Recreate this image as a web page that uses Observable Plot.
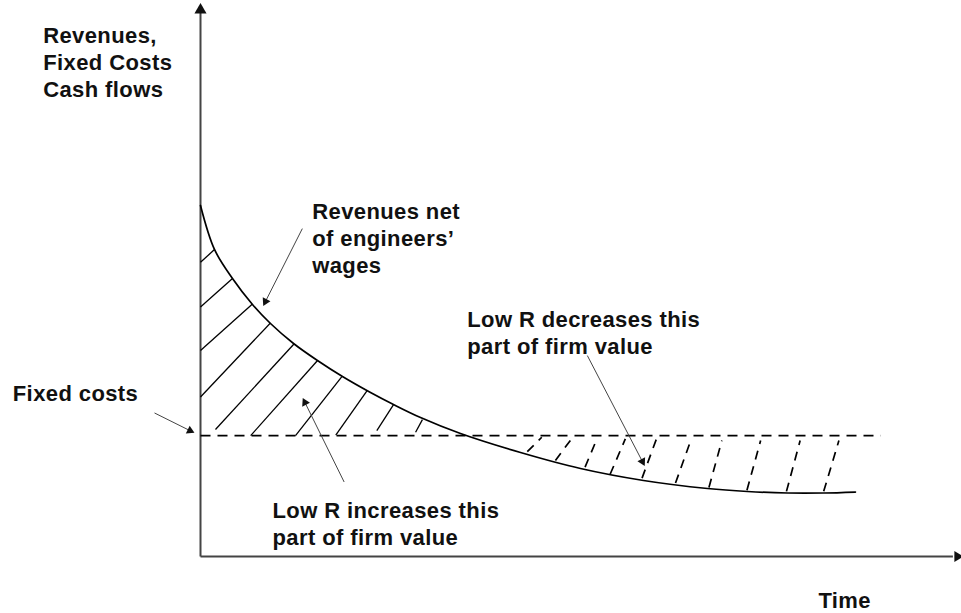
<!DOCTYPE html>
<html>
<head>
<meta charset="utf-8">
<script src="https://cdn.jsdelivr.net/npm/d3@7"></script>
<script src="https://cdn.jsdelivr.net/npm/@observablehq/plot@0.6"></script>
<style>
  html, body { margin: 0; padding: 0; background: #fff; }
  #chart svg { display: block; overflow: visible; }
  #chart svg text { letter-spacing: 0.4px; }
</style>
</head>
<body>
<div id="chart"></div>
<script>
// Revenues net of engineers' wages over time (arbitrary units)
const time    = [0, 1.84, 4.21, 6.84, 9.21, 12.24, 15.39, 18.68, 22.37, 25.39, 28.95, 34.21, 42.11, 50.0, 58.29, 66.71, 71.97, 77.24, 81.97, 86.18];
const revenue = [63.59, 55.62, 50.36, 45.65, 42.21, 38.59, 35.51, 32.61, 29.71, 27.54, 25.18, 22.28, 18.84, 15.94, 13.77, 12.32, 11.78, 11.5, 11.5, 11.68];

// Fixed costs level and its drawn extent in time
const fixedCost = 21.9;
const fixedSpan = [0, 89.5];

// Hatching of the two areas: [x1, y1, x2, y2]
const hatchIncrease = [
  [0, 53.3, 1.84, 55.6],
  [0, 45.2, 4.17, 50.3],
  [0, 37.3, 6.8, 45.7],
  [0, 28.9, 9.2, 42.3],
  [1.97, 23.0, 12.3, 38.5],
  [6.6, 21.9, 15.4, 35.5],
  [12.5, 21.9, 18.6, 32.6],
  [17.8, 22.0, 21.9, 30.0],
  [23.2, 22.8, 25.4, 27.5],
  [28.3, 22.5, 29.2, 24.8]
];
const hatchDecrease = [
  [43.0, 19.0, 44.9, 21.6],
  [46.7, 17.4, 48.7, 21.1],
  [50.6, 16.2, 52.1, 21.1],
  [53.9, 14.9, 55.9, 21.3],
  [58.1, 14.2, 60.1, 21.7],
  [62.5, 13.3, 64.5, 21.0],
  [66.9, 12.5, 68.6, 21.0],
  [71.9, 12.0, 73.7, 21.0],
  [77.1, 11.8, 78.9, 21.0],
  [82.0, 11.8, 84.0, 21.0]
];

// Annotation pointers: [x1, y1, x2, y2]
const pointers = [
  [13.4, 59.4, 8.4, 45.8],
  [-6.05, 26.0, -1.09, 22.6],
  [18.9, 13.5, 13.6, 28.3],
  [50.9, 36.4, 58.3, 16.8]
];

// Labels: [x, y (baseline of last line), text]
const labels = [
  [-20.7, 83.3, "Revenues,\nFixed Costs\nCash flows"],
  [14.7, 51.4, "Revenues net\nof engineers’\nwages"],
  [35.1, 36.6, "Low R decreases this\npart of firm value"],
  [-24.7, 28.1, "Fixed costs"],
  [9.47, 2.17, "Low R increases this\npart of firm value"],
  [81.3, -9.4, "Time"]
];

const W = 961, H = 613, ML = 200, MR = 1, MT = 4, MB = 57;
const sx = (W - ML - MR) / 100, sy = (H - MT - MB) / 100; // px per unit

const curveData = time.map((t, i) => ({t, v: revenue[i]}));
const seg = a => a.map(([x1, y1, x2, y2]) => ({x1, y1, x2, y2}));
// filled arrowheads at pointer tips, pulled back slightly so the tip lands at the end
const heads = pointers.map(([x1, y1, x2, y2]) => {
  const ux = (x2 - x1) * sx, uy = (y2 - y1) * sy;
  const len = Math.hypot(ux, uy);
  const back = 2.5;
  return {
    x: x2 - (ux / len) * back / sx,
    y: y2 - (uy / len) * back / sy,
    a: Math.atan2(ux, uy) * 180 / Math.PI
  };
});
const font = "Liberation Sans, Arial, Helvetica, sans-serif";

const chart = Plot.plot({
  width: W,
  height: H,
  marginLeft: ML,
  marginRight: MR,
  marginTop: MT,
  marginBottom: MB,
  x: {domain: [0, 100], axis: null},
  y: {domain: [0, 100], axis: null},
  style: {fontFamily: font, background: "#fff", overflow: "visible"},
  marks: [
    // axes
    Plot.link([{x1: 0, y1: 0, x2: 0, y2: 98.6}], {x1: "x1", y1: "y1", x2: "x2", y2: "y2", stroke: "#444", strokeWidth: 2}),
    Plot.link([{x1: 0, y1: 0, x2: 99, y2: 0}], {x1: "x1", y1: "y1", x2: "x2", y2: "y2", stroke: "#444", strokeWidth: 2}),
    Plot.dot([{x: 0, y: 99}], {x: "x", y: "y", symbol: "triangle", r: 4.5, fill: "#111", stroke: null}),
    Plot.dot([{x: 99.6, y: 0}], {x: "x", y: "y", symbol: "triangle", r: 4, fill: "#111", stroke: null, rotate: 90}),
    // fixed costs
    Plot.link([{x1: fixedSpan[0], x2: fixedSpan[1], y: fixedCost}], {x1: "x1", x2: "x2", y1: "y", y2: "y", stroke: "#000", strokeWidth: 1.6, strokeDasharray: "10,7"}),
    // hatching
    Plot.link(seg(hatchIncrease), {x1: "x1", y1: "y1", x2: "x2", y2: "y2", stroke: "#000", strokeWidth: 1.3}),
    Plot.link(seg(hatchDecrease), {x1: "x1", y1: "y1", x2: "x2", y2: "y2", stroke: "#000", strokeWidth: 1.7, strokeDasharray: "9,7"}),
    // revenues curve
    Plot.line(curveData, {x: "t", y: "v", curve: "catmull-rom", stroke: "#000", strokeWidth: 1.7}),
    // pointers
    Plot.link(seg(pointers), {x1: "x1", y1: "y1", x2: "x2", y2: "y2", stroke: "#444", strokeWidth: 1}),
    Plot.dot(heads, {x: "x", y: "y", rotate: "a", symbol: "triangle", r: 3.2, fill: "#111", stroke: null}),
    // labels
    Plot.text(labels, {x: d => d[0], y: d => d[1], text: d => d[2], textAnchor: "start", lineAnchor: "bottom", lineHeight: 27 / 22, fontSize: 22, fontWeight: "bold", fontFamily: font, fill: "#111"})
  ]
});
document.getElementById("chart").appendChild(chart);
</script>
</body>
</html>
